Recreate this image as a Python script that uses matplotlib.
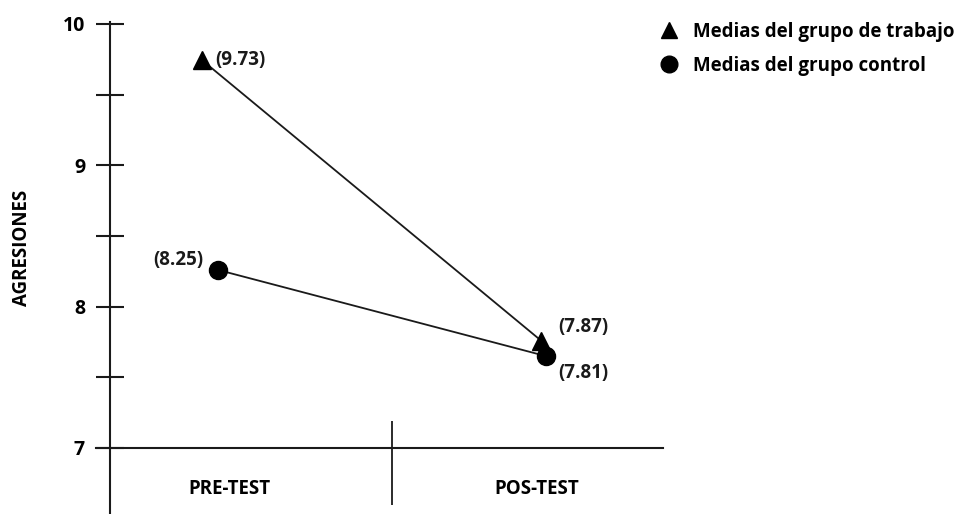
import matplotlib
matplotlib.use("Agg")
import matplotlib.pyplot as plt
import numpy as np
from matplotlib.lines import Line2D

# ---- data ----
categories = ["PRE-TEST", "POS-TEST"]
trabajo_means = [9.745, 7.76]     # plotted positions (grupo de trabajo)
control_means = [8.26, 7.65]      # plotted positions (grupo control)
trabajo_labels = ["(9.73)", "(7.87)"]
control_labels = ["(8.25)", "(7.81)"]
y_major = [7, 8, 9, 10]
y_minor = [7.5, 8.5, 9.5]
legend_labels = ["Medias del grupo de trabajo", "Medias del grupo control"]
ylabel = "AGRESIONES"

# ---- layout constants ----
trabajo_dodge = [-0.088, 0.013]
control_dodge = [-0.036, 0.029]
divider_x = 0.529
yaxis_x = -0.386

plt.rcParams['font.family'] = ['Open Sans', 'DejaVu Sans']
plt.rcParams['font.weight'] = 'bold'
ink = "#1a1a1a"
FS = 13.5

W, H = 963, 514
fig = plt.figure(figsize=(W / 100, H / 100), dpi=100)
ax = fig.add_axes([96 / W, 1 / H, (663 - 96) / W, (513 - 22) / H])
ax.set_xlim(-0.4318, 1.409)
ax.set_ylim(6.54, 10.014)

x = np.arange(len(categories))
xt = x + np.array(trabajo_dodge)
xc = x + np.array(control_dodge)

ax.plot(xt, trabajo_means, color=ink, lw=1.3, marker='^', ms=12.5,
        mfc='black', mec='black', zorder=3)
ax.plot(xc, control_means, color=ink, lw=1.3, marker='o', ms=13,
        mfc='black', mec='black', zorder=3)

# value annotations
offs_t = [(13, 0), (17, 14)]
offs_c = [(-15, 10), (12, -17)]
has_t = ['left', 'left']
has_c = ['right', 'left']
for i in range(len(categories)):
    ax.annotate(trabajo_labels[i], (xt[i], trabajo_means[i]),
                xytext=offs_t[i], textcoords='offset pixels',
                ha=has_t[i], va='center', fontsize=FS, fontweight='bold', color=ink)
    ax.annotate(control_labels[i], (xc[i], control_means[i]),
                xytext=offs_c[i], textcoords='offset pixels',
                ha=has_c[i], va='center', fontsize=FS, fontweight='bold', color=ink)

# spines
for s in ['top', 'right']:
    ax.spines[s].set_visible(False)
ax.spines['left'].set_position(('data', yaxis_x))
ax.spines['bottom'].set_position(('data', 7))
for s in ['left', 'bottom']:
    ax.spines[s].set_color(ink)
    ax.spines[s].set_linewidth(1.5)

ax.set_yticks(y_major)
ax.set_yticks(y_minor, minor=True)
ax.set_yticklabels([str(v) for v in y_major], fontsize=FS + 0.5, fontweight='bold')
ax.tick_params(axis='y', which='both', direction='inout', length=20, width=1.5,
               color=ink)
ax.tick_params(axis='y', which='major', pad=8)

ax.set_xticks(x)
ax.set_xticklabels(categories, fontsize=FS, fontweight='bold')
ax.tick_params(axis='x', length=0, pad=22)

ax.vlines(divider_x, 6.6, 7.19, color=ink, lw=1.3)

ax.set_ylabel(ylabel, fontsize=FS, fontweight='bold')
ax.yaxis.set_label_coords(-0.113, 0.54)

handles = [Line2D([], [], ls='none', marker='^', ms=12, color='black'),
           Line2D([], [], ls='none', marker='o', ms=12, color='black')]
fig.legend(handles, legend_labels, loc='upper left',
           bbox_to_anchor=(650 / W, 1 - 14 / H), frameon=False,
           prop={'size': FS, 'weight': 'bold'}, handlelength=1.2,
           handletextpad=0.7, labelspacing=0.75, borderaxespad=0)

fig.savefig("out.png", dpi=100)
